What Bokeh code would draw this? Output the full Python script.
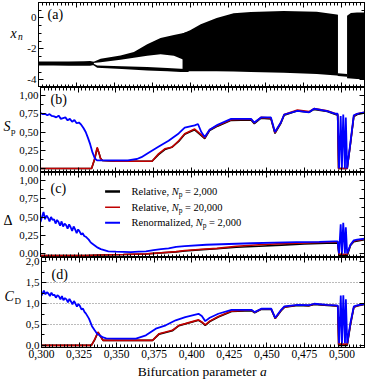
from bokeh.plotting import figure
from bokeh.layouts import column, row
from bokeh.models import LinearAxis, FixedTicker, Label, Range1d
from bokeh.core.properties import value
from bokeh.embed import file_html
from bokeh.resources import INLINE

FONT = "Liberation Serif"

# ---------------- axes / ticks ----------------
x_ticks = [0.300, 0.325, 0.350, 0.375, 0.400, 0.425, 0.450, 0.475, 0.500]
x_tick_labels = ["0,300", "0,325", "0,350", "0,375", "0,400", "0,425", "0,450", "0,475", "0,500"]
x_minor = [round(0.300 + 0.0025 * i, 4) for i in range(87)]

ya_ticks = [-4.0, -2.0, 0.0]
ya_labels = ["-4", "-2", "0"]
ya_minor = [-4.5, -4.0, -3.5, -3.0, -2.5, -2.0, -1.5, -1.0, -0.5, 0.0, 0.5, 1.0]

yb_ticks = [0.0, 0.25, 0.5, 0.75, 1.0]
yb_labels = ["0,00", "0,25", "0,50", "0,75", "1,00"]
yb_minor = [0.0, 0.125, 0.25, 0.375, 0.5, 0.625, 0.75, 0.875, 1.0]

yd_ticks = [0.0, 0.5, 1.0, 1.5, 2.0]
yd_labels = ["0,0", "0,5", "1,0", "1,5", "2,0"]
yd_minor = [0.0, 0.25, 0.5, 0.75, 1.0, 1.25, 1.5, 1.75, 2.0]
yd_grid = [0.5, 1.0, 1.5]

# ---------------- panel (a): bifurcation diagram bands ----------------
a_p1 = [0.300, 0.310, 0.320, 0.330, 0.334, 0.3365]
p1_top = [-2.82, -2.82, -2.81, -2.80, -2.78, -2.84]
p1_bot = [-3.08, -3.08, -3.09, -3.10, -3.10, -3.04]

a_up = [0.3360, 0.3410, 0.3541, 0.3629, 0.3717, 0.3805, 0.3893, 0.3957, 0.3990]
up_top = [-2.85, -2.64, -2.43, -2.21, -1.70, -1.30, -1.10, -0.97, -0.90]
up_bot = [-2.92, -2.86, -2.71, -2.58, -2.45, -2.35, -2.45, -2.70, -3.10]

a_lo = [0.3360, 0.3387, 0.3550, 0.3717, 0.3850, 0.3937, 0.3990]
lo_top = [-2.95, -3.07, -3.12, -3.18, -3.24, -3.29, -3.30]
lo_bot = [-3.05, -3.22, -3.30, -3.40, -3.45, -3.50, -3.50]

a_ch = [0.3950, 0.4000, 0.4070, 0.4175, 0.4287, 0.4400, 0.4617, 0.4835, 0.4967, 0.4975]
ch_top = [-1.00, -0.80, -0.40, 0.00, 0.30, 0.39, 0.45, 0.40, 0.22, 0.20]
ch_bot = [-3.45, -3.45, -3.45, -3.45, -3.47, -3.50, -3.55, -3.63, -3.72, -3.74]

a_win = [0.4975, 0.5035]
win_top = [-3.58, -3.62]
win_bot = [-3.76, -3.80]

a_ch2 = [0.5035, 0.5060, 0.5100, 0.5150]
ch2_top = [0.15, 0.32, 0.35, 0.36]
ch2_bot = [-3.90, -3.92, -3.95, -3.96]

# ---------------- panel (b): S_p ----------------
sp_blue_a = [0.3000, 0.3015, 0.3030, 0.3045, 0.3060, 0.3075, 0.3090, 0.3105, 0.3120, 0.3135,
             0.3150, 0.3165, 0.3180, 0.3195, 0.3210, 0.3225, 0.3240, 0.3255, 0.3270, 0.3285,
             0.3300, 0.3315, 0.3330, 0.3345, 0.3360, 0.3375, 0.3390, 0.3450, 0.3520, 0.3580,
             0.3610, 0.3640, 0.3670, 0.3720, 0.3785, 0.3850, 0.3917, 0.3957, 0.4023, 0.4045,
             0.4067, 0.4090, 0.4122, 0.4175, 0.4265, 0.4397, 0.4419, 0.4463, 0.4529, 0.4556,
             0.4595, 0.4617, 0.4705, 0.4782, 0.4815, 0.4903, 0.4958, 0.4972, 0.4981, 0.4992,
             0.5000, 0.5009, 0.5020, 0.5026, 0.5035, 0.5057, 0.5079, 0.5101, 0.5150]
sp_blue = [0.76, 0.745, 0.75, 0.73, 0.745, 0.72, 0.715, 0.70, 0.725, 0.68,
           0.69, 0.70, 0.66, 0.68, 0.64, 0.665, 0.62, 0.63, 0.60, 0.555,
           0.50, 0.42, 0.33, 0.22, 0.14, 0.11, 0.11, 0.11, 0.11, 0.11,
           0.12, 0.13, 0.155, 0.22, 0.30, 0.38, 0.48, 0.56, 0.59, 0.61,
           0.50, 0.43, 0.53, 0.60, 0.68, 0.68, 0.63, 0.70, 0.70, 0.50,
           0.63, 0.74, 0.79, 0.77, 0.82, 0.785, 0.75, 0.75, 0.00, 0.72,
           0.00, 0.74, 0.00, 0.70, 0.00, 0.36, 0.73, 0.75, 0.77]

sp_red_a = [0.3000, 0.3339, 0.3360, 0.3376, 0.3390, 0.3398, 0.3411, 0.3500, 0.3600, 0.3740,
            0.3783, 0.3825, 0.3871, 0.3917, 0.3957, 0.4023, 0.4056, 0.4090, 0.4122, 0.4175,
            0.4265, 0.4397, 0.4419, 0.4463, 0.4529, 0.4556, 0.4595, 0.4617, 0.4705, 0.4782,
            0.4815, 0.4903, 0.4958, 0.4972, 0.4978, 0.5035, 0.5057, 0.5079, 0.5101, 0.5150]
sp_red = [0.00, 0.00, 0.14, 0.29, 0.20, 0.14, 0.11, 0.10, 0.10, 0.10,
          0.20, 0.27, 0.29, 0.38, 0.475, 0.54, 0.48, 0.42, 0.53, 0.59,
          0.667, 0.675, 0.625, 0.70, 0.69, 0.49, 0.63, 0.74, 0.80, 0.78,
          0.82, 0.79, 0.75, 0.74, 0.00, 0.00, 0.35, 0.72, 0.75, 0.77]
sp_black = [0.00, 0.00, 0.13, 0.28, 0.20, 0.14, 0.11, 0.10, 0.10, 0.10,
            0.19, 0.26, 0.29, 0.37, 0.47, 0.53, 0.47, 0.41, 0.52, 0.58,
            0.66, 0.665, 0.615, 0.69, 0.68, 0.48, 0.62, 0.73, 0.79, 0.77,
            0.81, 0.78, 0.74, 0.73, 0.00, 0.00, 0.34, 0.71, 0.74, 0.76]

# ---------------- panel (c): Delta ----------------
dl_blue_a = [0.3000, 0.3010, 0.3020, 0.3030, 0.3040, 0.3050, 0.3060, 0.3070, 0.3080, 0.3090,
             0.3100, 0.3110, 0.3120, 0.3130, 0.3140, 0.3150, 0.3160, 0.3170, 0.3180, 0.3190,
             0.3200, 0.3210, 0.3220, 0.3230, 0.3240, 0.3250, 0.3260, 0.3270, 0.3280, 0.3290,
             0.3300, 0.3310, 0.3320, 0.3330, 0.3340, 0.3360, 0.3380, 0.3400, 0.3450, 0.3500,
             0.3600, 0.3650, 0.3700, 0.3750, 0.3800, 0.3850, 0.3900, 0.3957, 0.4100, 0.4250,
             0.4400, 0.4550, 0.4700, 0.4850, 0.4950, 0.4972, 0.4981, 0.4992, 0.5000, 0.5009,
             0.5020, 0.5026, 0.5035, 0.5057, 0.5079, 0.5101, 0.5150]
dl_blue = [0.43, 0.50, 0.57, 0.47, 0.52, 0.49, 0.44, 0.50, 0.46, 0.47,
           0.41, 0.46, 0.43, 0.38, 0.44, 0.37, 0.41, 0.39, 0.34, 0.40,
           0.36, 0.31, 0.37, 0.33, 0.28, 0.33, 0.30, 0.26, 0.28, 0.24,
           0.23, 0.21, 0.19, 0.16, 0.14, 0.11, 0.08, 0.06, 0.03, 0.025,
           0.02, 0.025, 0.03, 0.045, 0.06, 0.07, 0.09, 0.10, 0.12, 0.13,
           0.14, 0.15, 0.155, 0.16, 0.165, 0.165, 0.00, 0.40, -0.01, 0.42,
           0.00, 0.36, 0.00, 0.12, 0.18, 0.19, 0.205]

dl_red_a = [0.300, 0.330, 0.340, 0.355, 0.370, 0.380, 0.390, 0.3957, 0.405, 0.417,
            0.430, 0.445, 0.460, 0.475, 0.490, 0.4972, 0.4981, 0.5035, 0.5057, 0.5079, 0.515]
dl_red = [-0.027, -0.027, -0.020, -0.014, -0.005, 0.010, 0.025, 0.040, 0.055, 0.070,
          0.100, 0.120, 0.135, 0.145, 0.155, 0.160, -0.010, -0.010, 0.120, 0.170, 0.200]
dl_black = [-0.027, -0.027, -0.020, -0.014, -0.006, 0.008, 0.020, 0.035, 0.050, 0.065,
            0.085, 0.100, 0.115, 0.130, 0.140, 0.145, -0.030, -0.030, 0.110, 0.160, 0.190]

# ---------------- panel (d): C_D ----------------
cd_blue_a = [0.3000, 0.3008, 0.3016, 0.3026, 0.3036, 0.3046, 0.3056, 0.3066, 0.3076, 0.3086,
             0.3096, 0.3106, 0.3116, 0.3126, 0.3136, 0.3146, 0.3156, 0.3166, 0.3176, 0.3186,
             0.3196, 0.3206, 0.3216, 0.3226, 0.3236, 0.3246, 0.3256, 0.3266, 0.3276, 0.3286,
             0.3296, 0.3306, 0.3316, 0.3326, 0.3336, 0.3354, 0.3370, 0.3387, 0.3410, 0.3431,
             0.3500, 0.3629, 0.3695, 0.3761, 0.3827, 0.3893, 0.3957, 0.4045, 0.4067, 0.4090,
             0.4120, 0.4177, 0.4265, 0.4397, 0.4419, 0.4463, 0.4529, 0.4556, 0.4595, 0.4617,
             0.4705, 0.4782, 0.4815, 0.4903, 0.4958, 0.4972, 0.4981, 0.4992, 0.5000, 0.5009,
             0.5020, 0.5026, 0.5035, 0.5057, 0.5079, 0.5101, 0.5150]
cd_blue = [1.19, 1.25, 1.31, 1.22, 1.27, 1.24, 1.18, 1.26, 1.20, 1.21,
           1.14, 1.20, 1.17, 1.10, 1.18, 1.08, 1.13, 1.10, 1.03, 1.11,
           1.05, 0.98, 1.06, 1.00, 0.93, 0.99, 0.94, 0.86, 0.88, 0.80,
           0.76, 0.70, 0.64, 0.55, 0.46, 0.36, 0.28, 0.24, 0.19, 0.17,
           0.16, 0.16, 0.24, 0.40, 0.48, 0.60, 0.675, 0.756, 0.70, 0.58,
           0.66, 0.756, 0.85, 0.85, 0.795, 0.876, 0.876, 0.66, 0.85, 0.93,
           0.97, 0.96, 0.995, 0.97, 0.955, 0.95, 0.05, 1.19, 0.04, 1.20,
           0.05, 1.10, 0.05, 0.55, 0.93, 0.955, 0.995]

cd_red_a = [0.3000, 0.3332, 0.3355, 0.3376, 0.3392, 0.3409, 0.3500, 0.3739, 0.3783, 0.3827,
            0.3871, 0.3915, 0.3957, 0.4045, 0.4067, 0.4090, 0.4120, 0.4177, 0.4265, 0.4397,
            0.4419, 0.4463, 0.4529, 0.4556, 0.4595, 0.4617, 0.4705, 0.4782, 0.4815, 0.4903,
            0.4958, 0.4972, 0.4978, 0.5035, 0.5057, 0.5079, 0.5101, 0.5150]
cd_red = [0.00, 0.00, 0.15, 0.32, 0.22, 0.12, 0.12, 0.12, 0.28, 0.32,
          0.36, 0.48, 0.52, 0.61, 0.56, 0.49, 0.58, 0.69, 0.82, 0.845,
          0.79, 0.87, 0.87, 0.65, 0.84, 0.92, 0.965, 0.955, 0.99, 0.965,
          0.95, 0.945, 0.03, 0.03, 0.52, 0.92, 0.95, 0.99]
cd_black = [0.00, 0.00, 0.14, 0.31, 0.22, 0.12, 0.12, 0.12, 0.27, 0.31,
            0.35, 0.47, 0.51, 0.60, 0.55, 0.48, 0.57, 0.68, 0.81, 0.83,
            0.78, 0.86, 0.86, 0.64, 0.83, 0.91, 0.955, 0.945, 0.98, 0.955,
            0.94, 0.935, 0.00, 0.00, 0.50, 0.91, 0.94, 0.98]

legend_labels = [("Relative, ", "= 2,000"), ("Relative, ", "= 20,000"), ("Renormalized, ", "= 2,000")]

BLUE = "#0000ff"
RED = "#c00000"
BLACK = "#000000"

# ---------------- layout ----------------
W = 366          # total width of a row (gutter + panel)
FL = 38          # frame left, measured from row start
RB = 2
X0, X1 = 0.300, 0.515


def style_axis(ax, show, overrides, size, standoff):
    ax.major_tick_in = 5
    ax.major_tick_out = 0
    ax.minor_tick_in = 3
    ax.minor_tick_out = 0
    ax.axis_line_color = "black"
    ax.major_tick_line_color = "black"
    ax.minor_tick_line_color = "black"
    ax.major_label_text_font = FONT
    ax.major_label_text_color = "black"
    if show:
        ax.major_label_text_font_size = size
        ax.major_label_standoff = standoff
        ax.major_label_overrides = overrides
    else:
        ax.major_label_text_font_size = "0px"
        ax.major_label_standoff = 0
        ax.major_label_overrides = {k: "" for k in overrides}


def make_panel(gutter, h, y0, y1, yt, ytl, ymin, bottom_labels=False, bb=0, bt=0):
    p = figure(width=W - gutter, height=h, x_range=Range1d(X0, X1), y_range=Range1d(y0, y1),
               output_backend="svg", toolbar_location=None,
               x_axis_location=None, y_axis_location=None,
               min_border_left=FL - gutter, min_border_right=RB, min_border_top=bt,
               min_border_bottom=bb)
    p.xgrid.visible = False
    p.ygrid.visible = False
    p.outline_line_color = "black"
    p.background_fill_color = "white"
    p.border_fill_color = "white"
    xo = dict(zip(x_ticks, x_tick_labels))
    for loc, show in (("below", bottom_labels), ("above", False)):
        ax = LinearAxis(ticker=FixedTicker(ticks=x_ticks, minor_ticks=x_minor))
        style_axis(ax, show, xo, "11.5px", 2)
        p.add_layout(ax, loc)
    yo = dict(zip(yt, ytl))
    for loc, show in (("left", True), ("right", False)):
        ax = LinearAxis(ticker=FixedTicker(ticks=yt, minor_ticks=ymin))
        style_axis(ax, show, yo, "11px", 2)
        p.add_layout(ax, loc)
    return p


def make_gutter(w, h, items):
    # items: (text, x_left_px, y_from_top_px, size, style)
    g = figure(width=w, height=h, x_range=Range1d(0, w), y_range=Range1d(0, h),
               output_backend="svg", toolbar_location=None,
               x_axis_location=None, y_axis_location=None,
               min_border=0, outline_line_color=None)
    g.xgrid.visible = False
    g.ygrid.visible = False
    g.background_fill_color = "white"
    g.border_fill_color = "white"
    for text, xl, yt, size, style in items:
        g.text(x=[xl], y=[h - yt], text=[text], text_font=value(FONT),
               text_font_size=value(size), text_font_style=value(style),
               text_baseline="middle", text_align="left", text_color="black")
    return g


def lab(p, text, x_off, y, y_off, size, style="normal", align="left", baseline="middle"):
    p.add_layout(Label(x=X0, y=y, x_offset=x_off, y_offset=y_off, text=text,
                       text_font=FONT, text_font_size=size, text_font_style=style,
                       text_align=align, text_baseline=baseline, text_color="black"))


# panel (a)
GA = 24
YA = (-4.5, 1.0)
pa = make_panel(GA, 87, YA[0], YA[1], ya_ticks, ya_labels, ya_minor, bt=2)
for ax_, top_, bot_ in ((a_p1, p1_top, p1_bot), (a_up, up_top, up_bot), (a_lo, lo_top, lo_bot),
                        (a_ch, ch_top, ch_bot), (a_win, win_top, win_bot), (a_ch2, ch2_top, ch2_bot)):
    pa.varea(x=ax_, y1=bot_, y2=top_, fill_color="black")
lab(pa, "(a)", 9, YA[1], -12, "14px")
ga = make_gutter(GA, 87, [("x", 10, 31.5, "14px", "italic"), ("n", 17.5, 35, "9.5px", "italic")])

# panel (b)
GB = 16
YB = (-0.055, 1.11)
pb = make_panel(GB, 85, YB[0], YB[1], yb_ticks, yb_labels, yb_minor)
pb.line(sp_red_a, sp_black, line_color=BLACK, line_width=1.6)
pb.line(sp_red_a, sp_red, line_color=RED, line_width=1.6)
pb.line(sp_blue_a, sp_blue, line_color=BLUE, line_width=1.8)
lab(pb, "(b)", 10, YB[1], -12, "14px")
gb = make_gutter(GB, 85, [("S", 3, 38.5, "14px", "italic"), ("p", 10.5, 43.5, "9px", "normal")])

# panel (c)
GC = 16
YC = (-0.055, 1.11)
pc = make_panel(GC, 85, YC[0], YC[1], yb_ticks, yb_labels, yb_minor)
pc.line(dl_red_a, dl_black, line_color=BLACK, line_width=1.6)
pc.line(dl_red_a, dl_red, line_color=RED, line_width=1.6)
pc.line(dl_blue_a, dl_blue, line_color=BLUE, line_width=1.8)
lab(pc, "(c)", 10, YC[1], -15.5, "14px")
gc = make_gutter(GC, 85, [("\u0394", 3, 48, "14px", "normal")])

ppu_c = 85.0 / (YC[1] - YC[0])
ppx = (W - FL - RB) / (X1 - X0)
row_off = [19.0, 34.7, 50.3]
row_y = [YC[1] - r / ppu_c for r in row_off]
sw_x0 = X0 + 65.0 / ppx
sw_x1 = X0 + 80.0 / ppx
pc.segment(x0=[sw_x0] * 3, y0=row_y, x1=[sw_x1] * 3, y1=row_y,
           line_color=[BLACK, RED, BLUE], line_width=[2.4, 1.4, 2.0])
first_w = [40.2, 40.2, 64.2]
for (t1, t2), r, w in zip(legend_labels, row_off, first_w):
    lab(pc, t1, 91, YC[1], -r, "10.5px")
    lab(pc, "N", 91 + w, YC[1], -r, "10.5px", "italic")
    lab(pc, "p", 91 + w + 7.0, YC[1], -r - 3, "7.5px")
    lab(pc, t2, 91 + w + 7.0 + 3.75 + 2.6, YC[1], -r, "10.5px")

# panel (d)
GD = 22
YD = (-0.05, 2.1)
pd = make_panel(GD, 105, YD[0], YD[1], yd_ticks, yd_labels, yd_minor, bottom_labels=True, bb=15)
pd.ygrid.visible = True
pd.ygrid.ticker = FixedTicker(ticks=yd_grid)
pd.ygrid.grid_line_color = "#777777"
pd.ygrid.grid_line_dash = "1 2"
pd.ygrid.grid_line_width = 1
pd.line(cd_red_a, cd_black, line_color=BLACK, line_width=1.6)
pd.line(cd_red_a, cd_red, line_color=RED, line_width=1.6)
pd.line(cd_blue_a, cd_blue, line_color=BLUE, line_width=1.8)
lab(pd, "(d)", 10, YD[1], -17, "14px")
gd = make_gutter(GD, 105, [("C", 4, 45.5, "14px", "italic"), ("D", 14, 50.5, "9px", "normal")])

# x-axis title strip
TH = 18
tf = figure(width=W, height=TH, x_range=Range1d(0, W), y_range=Range1d(0, TH),
            output_backend="svg", toolbar_location=None,
            x_axis_location=None, y_axis_location=None, min_border=0, outline_line_color=None)
tf.xgrid.visible = False
tf.ygrid.visible = False
tf.text(x=[256], y=[9.5], text=["Bifurcation parameter"], text_font=value(FONT),
        text_font_size=value("13.5px"), text_align="right", text_baseline="middle",
        text_color="black")
tf.text(x=[259.5], y=[9.5], text=["a"], text_font=value(FONT), text_font_size=value("13.5px"),
        text_font_style=value("italic"), text_align="left", text_baseline="middle",
        text_color="black")

layout = column(row(ga, pa), row(gb, pb), row(gc, pc), row(gd, pd), tf)

open("out.html", "w").write(file_html(layout, INLINE))
